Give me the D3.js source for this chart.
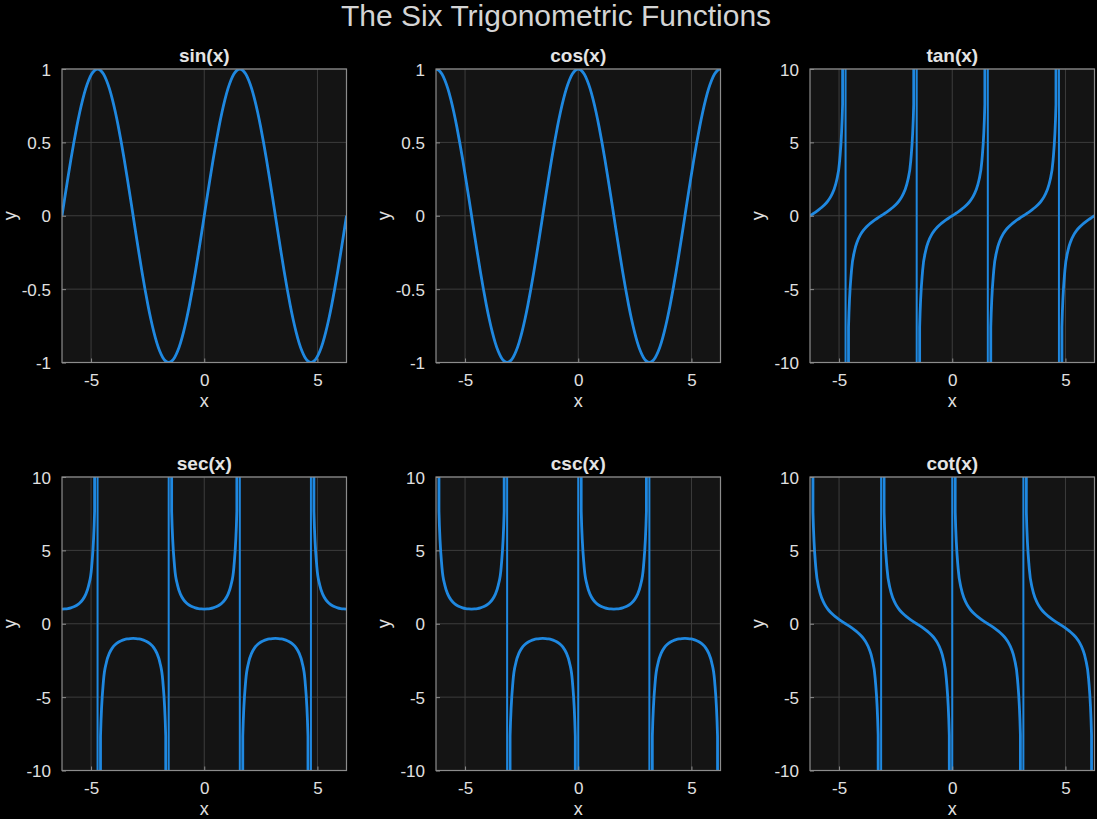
<!DOCTYPE html>
<html lang="en">
<head>
<meta charset="UTF-8">
<title>The Six Trigonometric Functions</title>
<script src="https://cdn.jsdelivr.net/npm/d3@7/dist/d3.min.js"></script>
<style>
  body { margin: 0; background: #000; }
  text { font-family: "Liberation Sans", Arial, sans-serif; }
</style>
</head>
<body>
<svg width="1097" height="819"></svg>
<script>
// sample grid: -2*pi .. 2*pi in steps of 7.5 degrees (97 samples)
var xs = d3.range(-48, 49).map(function (k) { return k * Math.PI / 24; });

// y values read at each sample, null = pole
var sinY = [0,.131,.259,.383,.5,.609,.707,.793,.866,.924,.966,.991,1,.991,.966,.924,.866,.793,.707,.609,.5,.383,.259,.131,
  0,-.131,-.259,-.383,-.5,-.609,-.707,-.793,-.866,-.924,-.966,-.991,-1,-.991,-.966,-.924,-.866,-.793,-.707,-.609,-.5,-.383,-.259,-.131,
  0,.131,.259,.383,.5,.609,.707,.793,.866,.924,.966,.991,1,.991,.966,.924,.866,.793,.707,.609,.5,.383,.259,.131,
  0,-.131,-.259,-.383,-.5,-.609,-.707,-.793,-.866,-.924,-.966,-.991,-1,-.991,-.966,-.924,-.866,-.793,-.707,-.609,-.5,-.383,-.259,-.131,0];
var cosY = [1,.991,.966,.924,.866,.793,.707,.609,.5,.383,.259,.131,0,-.131,-.259,-.383,-.5,-.609,-.707,-.793,-.866,-.924,-.966,-.991,
  -1,-.991,-.966,-.924,-.866,-.793,-.707,-.609,-.5,-.383,-.259,-.131,0,.131,.259,.383,.5,.609,.707,.793,.866,.924,.966,.991,
  1,.991,.966,.924,.866,.793,.707,.609,.5,.383,.259,.131,0,-.131,-.259,-.383,-.5,-.609,-.707,-.793,-.866,-.924,-.966,-.991,
  -1,-.991,-.966,-.924,-.866,-.793,-.707,-.609,-.5,-.383,-.259,-.131,0,.131,.259,.383,.5,.609,.707,.793,.866,.924,.966,.991,1];
var tanY = [0,.132,.268,.414,.577,.767,1,1.303,1.732,2.414,3.732,7.596,null,-7.596,-3.732,-2.414,-1.732,-1.303,-1,-.767,-.577,-.414,-.268,-.132,
  0,.132,.268,.414,.577,.767,1,1.303,1.732,2.414,3.732,7.596,null,-7.596,-3.732,-2.414,-1.732,-1.303,-1,-.767,-.577,-.414,-.268,-.132,
  0,.132,.268,.414,.577,.767,1,1.303,1.732,2.414,3.732,7.596,null,-7.596,-3.732,-2.414,-1.732,-1.303,-1,-.767,-.577,-.414,-.268,-.132,
  0,.132,.268,.414,.577,.767,1,1.303,1.732,2.414,3.732,7.596,null,-7.596,-3.732,-2.414,-1.732,-1.303,-1,-.767,-.577,-.414,-.268,-.132,0];
var secY = [1,1.009,1.035,1.082,1.155,1.26,1.414,1.643,2,2.613,3.864,7.661,null,-7.661,-3.864,-2.613,-2,-1.643,-1.414,-1.26,-1.155,-1.082,-1.035,-1.009,
  -1,-1.009,-1.035,-1.082,-1.155,-1.26,-1.414,-1.643,-2,-2.613,-3.864,-7.661,null,7.661,3.864,2.613,2,1.643,1.414,1.26,1.155,1.082,1.035,1.009,
  1,1.009,1.035,1.082,1.155,1.26,1.414,1.643,2,2.613,3.864,7.661,null,-7.661,-3.864,-2.613,-2,-1.643,-1.414,-1.26,-1.155,-1.082,-1.035,-1.009,
  -1,-1.009,-1.035,-1.082,-1.155,-1.26,-1.414,-1.643,-2,-2.613,-3.864,-7.661,null,7.661,3.864,2.613,2,1.643,1.414,1.26,1.155,1.082,1.035,1.009,1];
var cscY = [null,7.661,3.864,2.613,2,1.643,1.414,1.26,1.155,1.082,1.035,1.009,1,1.009,1.035,1.082,1.155,1.26,1.414,1.643,2,2.613,3.864,7.661,
  null,-7.661,-3.864,-2.613,-2,-1.643,-1.414,-1.26,-1.155,-1.082,-1.035,-1.009,-1,-1.009,-1.035,-1.082,-1.155,-1.26,-1.414,-1.643,-2,-2.613,-3.864,-7.661,
  null,7.661,3.864,2.613,2,1.643,1.414,1.26,1.155,1.082,1.035,1.009,1,1.009,1.035,1.082,1.155,1.26,1.414,1.643,2,2.613,3.864,7.661,
  null,-7.661,-3.864,-2.613,-2,-1.643,-1.414,-1.26,-1.155,-1.082,-1.035,-1.009,-1,-1.009,-1.035,-1.082,-1.155,-1.26,-1.414,-1.643,-2,-2.613,-3.864,-7.661,null];
var cotY = [null,7.596,3.732,2.414,1.732,1.303,1,.767,.577,.414,.268,.132,0,-.132,-.268,-.414,-.577,-.767,-1,-1.303,-1.732,-2.414,-3.732,-7.596,
  null,7.596,3.732,2.414,1.732,1.303,1,.767,.577,.414,.268,.132,0,-.132,-.268,-.414,-.577,-.767,-1,-1.303,-1.732,-2.414,-3.732,-7.596,
  null,7.596,3.732,2.414,1.732,1.303,1,.767,.577,.414,.268,.132,0,-.132,-.268,-.414,-.577,-.767,-1,-1.303,-1.732,-2.414,-3.732,-7.596,
  null,7.596,3.732,2.414,1.732,1.303,1,.767,.577,.414,.268,.132,0,-.132,-.268,-.414,-.577,-.767,-1,-1.303,-1.732,-2.414,-3.732,-7.596,null];

var titles = ['sin(x)', 'cos(x)', 'tan(x)', 'sec(x)', 'csc(x)', 'cot(x)'];
var series = [sinY, cosY, tanY, secY, cscY, cotY];
var xTicks = [-5, 0, 5];
var unitTicks = [-1, -0.5, 0, 0.5, 1];
var wideTicks = [-10, -5, 0, 5, 10];

var BIG = 1000; // stands in for the value at a pole
var blue = '#1f88e0';
var svg = d3.select('svg');

svg.append('text').attr('x', 556).attr('y', 26).attr('text-anchor', 'middle')
  .attr('fill', '#d4d4d4').style('font-size', '30px').text('The Six Trigonometric Functions');

var W = 284.5, H = 293.5;
var lefts = [62, 436, 810], tops = [69, 477];

// split a sampled series at its poles into continuous branches
function branches(ys) {
  var out = [], poles = [], cur = [];
  ys.forEach(function (y, i) {
    if (y === null) {
      if (cur.length) { cur.push([xs[i], Math.sign(cur[cur.length - 1][1]) * BIG]); out.push(cur); }
      var nx = ys[i + 1];
      cur = (nx !== undefined && nx !== null) ? [[xs[i], Math.sign(nx) * BIG]] : [];
      if (i > 0 && i < ys.length - 1) poles.push([xs[i], Math.sign(ys[i - 1]) * BIG, Math.sign(nx) * BIG]);
    } else cur.push([xs[i], y]);
  });
  if (cur.length) out.push(cur);
  return { parts: out, poles: poles };
}

series.forEach(function (ys, idx) {
  var col = idx % 3, row = Math.floor(idx / 3);
  var g = svg.append('g').attr('transform', 'translate(' + lefts[col] + ',' + tops[row] + ')');
  var small = idx < 2;
  var yTicks = small ? unitTicks : wideTicks;

  var x = d3.scaleLinear().domain([-2 * Math.PI, 2 * Math.PI]).range([0, W]);
  var y = d3.scaleLinear().domain(small ? [-1, 1] : [-10, 10]).range([H, 0]);

  g.append('rect').attr('width', W).attr('height', H).attr('fill', '#141414');

  // grid
  g.append('g').selectAll('line').data(xTicks).join('line')
    .attr('x1', x).attr('x2', x).attr('y1', 0).attr('y2', H)
    .attr('stroke', '#3d3d3d').attr('stroke-width', 1);
  g.append('g').selectAll('line').data(yTicks).join('line')
    .attr('y1', y).attr('y2', y).attr('x1', 0).attr('x2', W)
    .attr('stroke', '#3d3d3d').attr('stroke-width', 1);

  var clipId = 'clip' + idx;
  g.append('clipPath').attr('id', clipId).append('rect').attr('width', W).attr('height', H);
  var plot = g.append('g').attr('clip-path', 'url(#' + clipId + ')');

  var b = branches(ys);
  var line = d3.line().x(function (d) { return x(d[0]); }).y(function (d) { return y(d[1]); })
    .curve(d3.curveMonotoneX);
  plot.selectAll('path.branch').data(b.parts).join('path').attr('class', 'branch')
    .attr('d', line).attr('fill', 'none').attr('stroke', blue).attr('stroke-width', 2.8)
    .attr('stroke-linejoin', 'round');
  plot.selectAll('line.pole').data(b.poles).join('line').attr('class', 'pole')
    .attr('x1', function (d) { return x(d[0]); }).attr('x2', function (d) { return x(d[0]); })
    .attr('y1', function (d) { return y(d[1]); }).attr('y2', function (d) { return y(d[2]); })
    .attr('stroke', blue).attr('stroke-width', 2);

  // axes with MATLAB-like inward ticks
  var ax = g.append('g').attr('transform', 'translate(0,' + H + ')')
    .call(d3.axisBottom(x).tickValues(xTicks).tickSizeInner(-4).tickSizeOuter(0).tickPadding(11)
      .tickFormat(function (d) { return String(d); }));
  var ay = g.append('g')
    .call(d3.axisLeft(y).tickValues(yTicks).tickSizeInner(-4).tickSizeOuter(0).tickPadding(11)
      .tickFormat(function (d) { return String(d); }));
  [ax, ay].forEach(function (a) {
    a.select('.domain').remove();
    a.selectAll('line').attr('stroke', '#8c8c8c');
    a.selectAll('text').attr('fill', '#e0e0e0').style('font-size', '17px')
      .style('font-family', '"Liberation Sans", Arial, sans-serif');
  });
  ay.selectAll('text').attr('dy', '0.36em');
  g.append('rect').attr('width', W).attr('height', H).attr('fill', 'none')
    .attr('stroke', '#8c8c8c').attr('stroke-width', 1.2);

  g.append('text').attr('x', W / 2).attr('y', -7).attr('text-anchor', 'middle')
    .attr('fill', '#e4e4e4').style('font-size', '19px').style('font-weight', 'bold').text(titles[idx]);
  g.append('text').attr('x', W / 2).attr('y', H + 44).attr('text-anchor', 'middle')
    .attr('fill', '#e0e0e0').style('font-size', '18px').text('x');
  g.append('text').attr('transform', 'translate(' + (-46) + ',' + (H / 2) + ') rotate(-90)')
    .attr('text-anchor', 'middle').attr('fill', '#e0e0e0').style('font-size', '18px').text('y');
});
</script>
</body>
</html>
